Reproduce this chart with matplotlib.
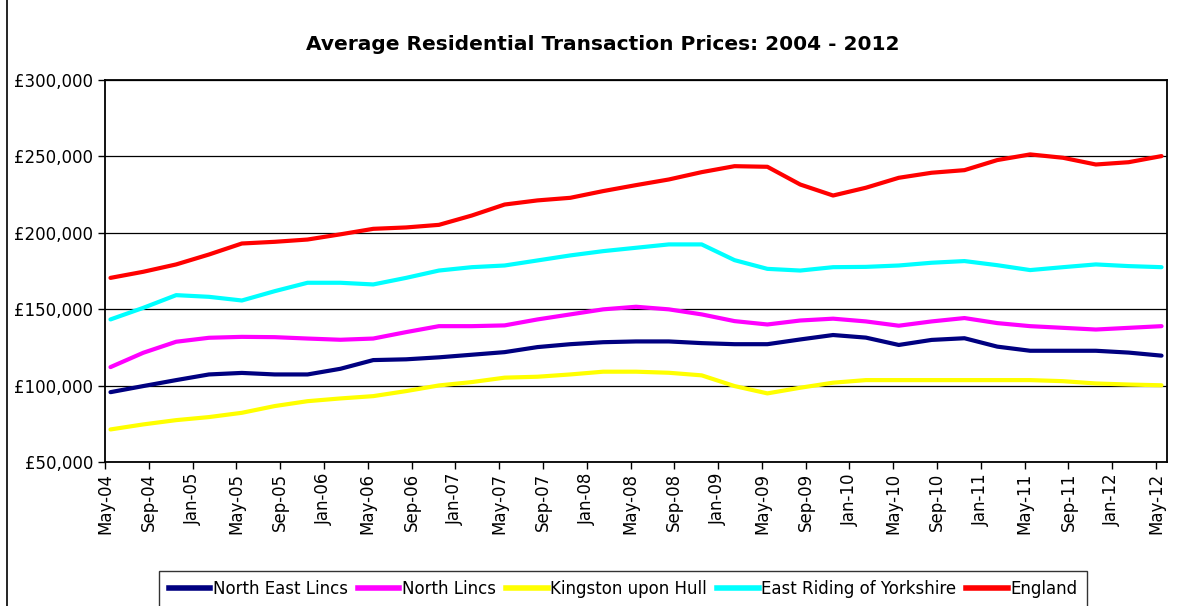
import matplotlib
matplotlib.use("Agg")
import matplotlib.pyplot as plt
from matplotlib.ticker import FuncFormatter, FixedLocator
from matplotlib.lines import Line2D

plt.rcParams['font.family'] = ['DejaVu Sans']

# Month index (0 = May-04) of each quarterly reading
months = list(range(0, 97, 3))

tick_labels = ["May-04", "Sep-04", "Jan-05", "May-05", "Sep-05", "Jan-06", "May-06",
               "Sep-06", "Jan-07", "May-07", "Sep-07", "Jan-08", "May-08", "Sep-08",
               "Jan-09", "May-09", "Sep-09", "Jan-10", "May-10", "Sep-10", "Jan-11",
               "May-11", "Sep-11", "Jan-12", "May-12"]

# Values in £ thousands
north_east_lincs = [95.7, 99.7, 103.6, 107.3, 108.3, 107.3, 107.3, 111.0, 116.7, 117.2, 118.5,
                    120.2, 121.9, 125.2, 127.1, 128.4, 128.9, 128.9, 127.8, 127.1, 127.1, 130.2,
                    133.1, 131.4, 126.6, 129.9, 131.0, 125.5, 122.8, 122.8, 122.8, 121.6, 119.6]
north_lincs = [112.1, 121.5, 128.7, 131.3, 131.9, 131.7, 130.8, 130.0, 130.8, 135.0, 138.9,
               138.9, 139.4, 143.3, 146.6, 149.9, 151.6, 149.9, 146.6, 142.2, 140.0, 142.6,
               143.8, 142.0, 139.2, 142.0, 144.2, 140.9, 138.9, 137.8, 136.7, 137.8, 138.9]
kingston_upon_hull = [71.3, 74.6, 77.4, 79.4, 82.2, 86.6, 89.8, 91.6, 93.1, 96.4, 100.1,
                      102.3, 105.2, 105.8, 107.3, 109.1, 109.1, 108.4, 106.7, 99.7, 94.9, 98.6,
                      101.9, 103.6, 103.6, 103.6, 103.6, 103.6, 103.6, 102.9, 101.4, 100.7, 100.2]
east_riding = [143.3, 150.9, 159.2, 158.1, 155.7, 161.8, 167.3, 167.3, 166.2, 170.5, 175.3,
               177.5, 178.6, 181.9, 185.2, 188.0, 190.2, 192.4, 192.4, 182.1, 176.4, 175.3,
               177.5, 177.7, 178.6, 180.4, 181.5, 178.8, 175.6, 177.5, 179.3, 178.2, 177.5]
england = [170.5, 174.5, 179.3, 185.8, 193.0, 194.1, 195.6, 199.0, 202.6, 203.5, 205.2,
           211.3, 218.5, 221.2, 222.9, 227.3, 231.2, 234.9, 239.7, 243.6, 243.2, 231.6,
           224.4, 229.5, 236.0, 239.3, 241.0, 247.6, 251.3, 249.1, 244.7, 246.2, 250.2]

series_names = ["North East Lincs", "North Lincs", "Kingston upon Hull",
                "East Riding of Yorkshire", "England"]
series_values = [north_east_lincs, north_lincs, kingston_upon_hull, east_riding, england]
series_colors = ["#000080", "#FF00FF", "#FFFF00", "#00FFFF", "#FF0000"]

W, H = 1189, 606
fig = plt.figure(figsize=(W / 100, H / 100), dpi=100)
ax = fig.add_axes([105 / W, 1 - 462 / H, (1167 - 105) / W, (462 - 80) / H])

for name, vals, col in zip(series_names, series_values, series_colors):
    ax.plot(months, [v * 1000 for v in vals], color=col, lw=3, label=name,
            solid_capstyle='round', solid_joinstyle='round', zorder=3)

ax.set_ylim(50000, 300000)
ax.set_yticks(range(50000, 300001, 50000))
ax.yaxis.set_major_formatter(FuncFormatter(lambda v, p: "£{:,.0f}".format(v)))
ax.set_xlim(-0.5, 96.5)
tick_pos = [i * 4 - 0.5 for i in range(len(tick_labels))]
ax.xaxis.set_major_locator(FixedLocator(tick_pos))
ax.set_xticklabels(tick_labels, rotation=90)
ax.grid(axis='y', color='black', lw=0.9, zorder=1)
ax.tick_params(axis='both', direction='out', length=5, width=1, labelsize=12, colors='black')
ax.tick_params(axis='x', pad=3)
for s in ax.spines.values():
    s.set_color('black')
    s.set_linewidth(1.3)

fig.text(603 / W, 1 - 45 / H, "Average Residential Transaction Prices: 2004 - 2012",
         ha='center', va='center', fontsize=14.5, fontweight='bold')

handles = [Line2D([0], [0], color=c, lw=4) for c in series_colors]
leg = fig.legend(handles, series_names, loc='upper center', ncol=5,
                 bbox_to_anchor=(623 / W, 1 - 571 / H), fontsize=12, frameon=True,
                 fancybox=False, edgecolor='black', handlelength=2.5, handletextpad=0.15,
                 columnspacing=0.6, borderpad=0.55, borderaxespad=0)
leg.get_frame().set_linewidth(1.0)

fig.add_artist(Line2D([7 / W, 7 / W], [0, 1], color='black', lw=1.2, transform=fig.transFigure))

fig.savefig("out.png", dpi=100)
